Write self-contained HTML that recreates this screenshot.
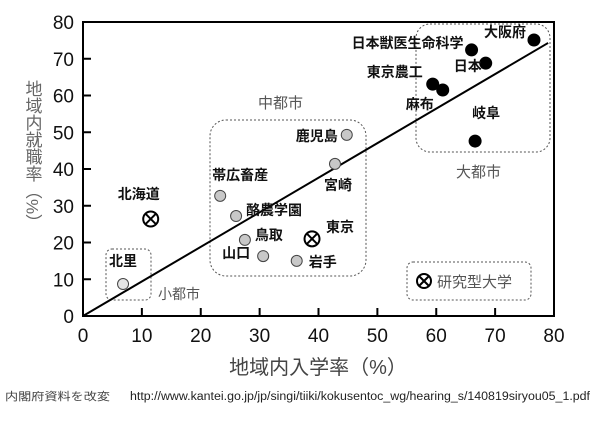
<!DOCTYPE html>
<html><head><meta charset="utf-8">
<style>
html,body{margin:0;padding:0;background:#fff;}
svg{display:block;}
text{font-family:"Liberation Sans","Noto Sans CJK JP",sans-serif;}
</style></head>
<body>
<svg id="chart" width="600" height="425" xmlns="http://www.w3.org/2000/svg">
<g id="boxes">
 <rect x="106" y="249" width="45" height="51" rx="6" fill="none" stroke="#555" stroke-dasharray="2,2"/>
 <rect x="210" y="120" width="156" height="156" rx="16" fill="none" stroke="#555" stroke-dasharray="2,2"/>
 <rect x="416" y="24" width="134" height="128" rx="14" fill="none" stroke="#555" stroke-dasharray="2,2"/>
 <rect x="407" y="262" width="124" height="38" rx="6" fill="none" stroke="#555" stroke-dasharray="2,2"/>
</g>
<text x="258" y="108" font-size="15" fill="#555">中都市</text>
<text x="158" y="299" font-size="14" fill="#555">小都市</text>
<text x="456" y="177" font-size="15" fill="#555">大都市</text>
<g>
 <circle cx="424" cy="281" r="7" fill="#fff" stroke="#000" stroke-width="2"/>
 <line x1="419" y1="276" x2="429" y2="286" stroke="#000" stroke-width="2"/>
 <line x1="429" y1="276" x2="419" y2="286" stroke="#000" stroke-width="2"/>
 <text x="437" y="287" font-size="15" fill="#555">研究型大学</text>
</g>
<g id="axes"></g>
<g id="marks"></g>
<text x="32" y="80" font-size="17" fill="#666" writing-mode="tb">地域内就職率（%）</text>
<text x="318" y="374" font-size="20" fill="#444" text-anchor="middle">地域内入学率（%）</text>
<text x="5" y="400" font-size="11" fill="#444" textLength="105" lengthAdjust="spacingAndGlyphs">内閣府資料を改変</text>
<text x="130" y="400" font-size="11.5" fill="#222" textLength="460" lengthAdjust="spacingAndGlyphs">http://www.kantei.go.jp/jp/singi/tiiki/kokusentoc_wg/hearing_s/140819siryou05_1.pdf</text>
</svg>
<script>
const xTicks=[0,10,20,30,40,50,60,70,80];
const yTicks=[0,10,20,30,40,50,60,70,80];
const names=["北里","北海道","帯広畜産","酪農学園","鳥取","山口","岩手","東京","宮崎","鹿児島","東京農工","麻布","日本獣医生命科学","日本","大阪府","岐阜"];
const xVals=[6.8,11.5,23.3,26,27.5,30.6,36.3,38.9,42.8,44.8,59.4,61.1,66,68.4,76.6,66.6];
const yVals=[8.7,26.4,32.7,27.2,20.7,16.3,15,21,41.4,49.3,63.1,61.5,72.4,68.8,75.1,47.6];
const kinds=["s","r","m","m","m","m","m","r","m","m","l","l","l","l","l","l"];
const trendEnd=[79,74.3];
const X=v=>83+v*(554-83)/80, Y=v=>316-v*(316-22)/80;
const NS="http://www.w3.org/2000/svg";
function mk(t,a,p){const e=document.createElementNS(NS,t);for(const k in a)e.setAttribute(k,a[k]);p.appendChild(e);return e;}
const ax=document.getElementById('axes'), mg=document.getElementById('marks');
const frame=mk('rect',{x:X(0),y:Y(80),width:X(80)-X(0),height:Y(0)-Y(80),fill:'none',stroke:'#000','stroke-width':2},ax);


xTicks.forEach(t=>{
 if(t>0&&t<80){const l=mk('line',{x1:X(t),x2:X(t),y1:Y(0),y2:Y(0)-8,stroke:'#000','stroke-width':2},ax);
 
 }
 const tx=mk('text',{x:X(t),y:342,'font-size':19,'text-anchor':'middle',fill:'#111'},ax);tx.textContent=t;
 
 
});
yTicks.forEach(t=>{
 if(t>0&&t<80){const l=mk('line',{x1:X(0),x2:X(0)+8,y1:Y(t),y2:Y(t),stroke:'#000','stroke-width':2},ax);
 
 }
 const tx=mk('text',{x:74,y:Y(t)+7,'font-size':19,'text-anchor':'end',fill:'#111'},ax);tx.textContent=t;
 
 
});
const tl=mk('line',{x1:X(0),y1:Y(0),x2:X(trendEnd[0]),y2:Y(trendEnd[1]),stroke:'#000','stroke-width':2},mg);


const lab={"北里":[-14,-18,'start'],"北海道":[-33,-20,'start'],"帯広畜産":[-8,-16,'start'],"酪農学園":[10,-1,'start'],"鳥取":[10,0,'start'],"山口":[-41,2,'start'],"岩手":[12,6,'start'],"東京":[14,-7,'start'],"宮崎":[-11,26,'start'],"鹿児島":[-9,6,'end'],"東京農工":[-10,-7,'end'],"麻布":[-37,19,'start'],"日本獣医生命科学":[-8,-2,'end'],"日本":[-4,8,'end'],"大阪府":[-8,-3,'end'],"岐阜":[-3,-23,'start']};
names.forEach((n,i)=>{
 const g=mk('g',{},mg);
 
 
 const cx=X(xVals[i]),cy=Y(yVals[i]),k=kinds[i];
 if(k==='r'){mk('circle',{cx,cy,r:7.5,fill:'#fff',stroke:'#000','stroke-width':2},g);
  mk('line',{x1:cx-5,y1:cy-5,x2:cx+5,y2:cy+5,stroke:'#000','stroke-width':2},g);
  mk('line',{x1:cx+5,y1:cy-5,x2:cx-5,y2:cy+5,stroke:'#000','stroke-width':2},g);}
 else if(k==='l')mk('circle',{cx,cy,r:6.5,fill:'#000'},g);
 else mk('circle',{cx,cy,r:5.5,fill:k==='s'?'#e4e4e4':'#c8c8c8',stroke:'#444','stroke-width':1},g);
 const o=lab[n]||[8,0,'start'];
 const t=mk('text',{x:cx+o[0],y:cy+o[1],'font-size':14,'font-weight':'bold','text-anchor':o[2],fill:'#111'},g);t.textContent=n;
});
</script>
</body></html>
